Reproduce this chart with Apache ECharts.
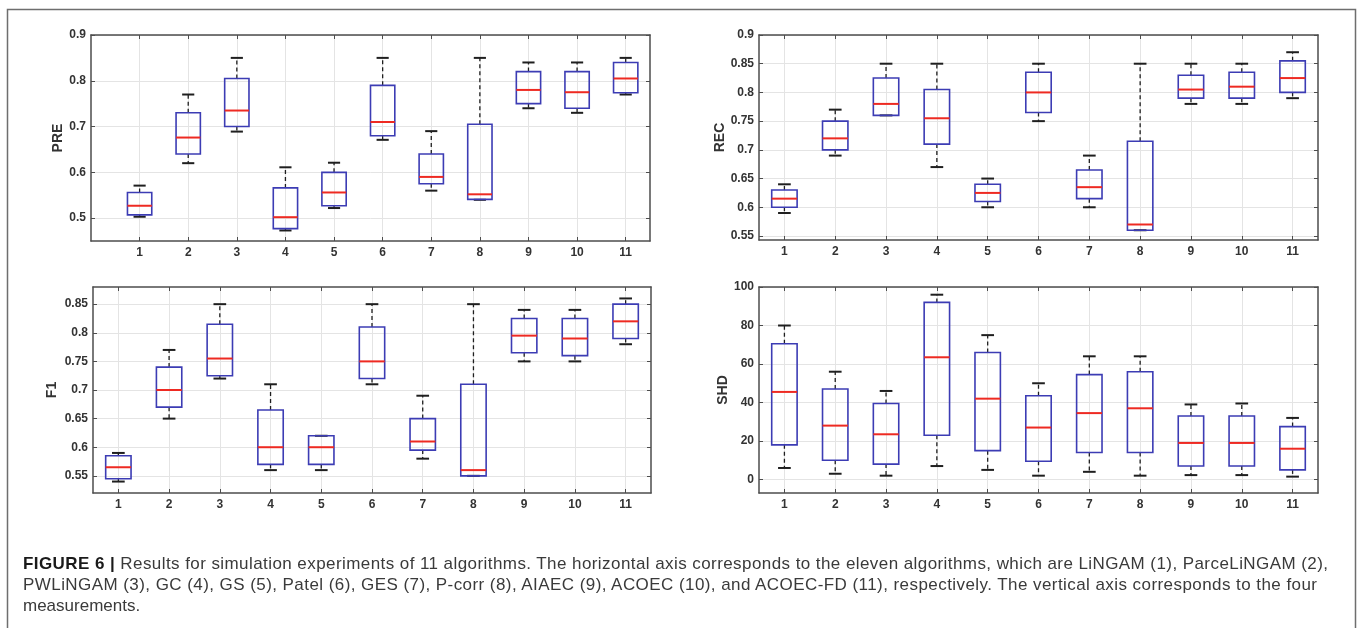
<!DOCTYPE html>
<html>
<head>
<meta charset="utf-8">
<script src="https://cdn.jsdelivr.net/npm/echarts@6/dist/echarts.min.js"></script>
<style>
  html, body { margin: 0; padding: 0; background: #fff; }
  #wrap { position: relative; width: 1360px; height: 628px; overflow: hidden; }
  #chart { width: 1360px; height: 628px; }
  #caption { position: absolute; left: 23px; top: 553px; font-family: "Liberation Sans", Arial, Helvetica, sans-serif;
             font-size: 17px; line-height: 21px; color: #3a3a3a; }
  #caption div { white-space: nowrap; }
  #caption b { color: #1a1a1a; }
</style>
</head>
<body>
<div id="wrap">
  <div id="chart"></div>
  <div id="caption"></div>
</div>
<script>
// algorithm positions on the horizontal axis
var xTicks = [1, 2, 3, 4, 5, 6, 7, 8, 9, 10, 11];

// each row: [min, q1, median, q3, max]
var preData = [
  [0.503, 0.507, 0.527, 0.556, 0.571],
  [0.620, 0.640, 0.676, 0.730, 0.770],
  [0.689, 0.700, 0.735, 0.805, 0.850],
  [0.473, 0.477, 0.502, 0.566, 0.611],
  [0.522, 0.527, 0.556, 0.600, 0.621],
  [0.671, 0.680, 0.710, 0.790, 0.850],
  [0.560, 0.575, 0.590, 0.640, 0.690],
  [0.540, 0.541, 0.552, 0.705, 0.850],
  [0.740, 0.750, 0.780, 0.820, 0.840],
  [0.730, 0.740, 0.775, 0.820, 0.840],
  [0.770, 0.774, 0.805, 0.840, 0.850]
];
var recData = [
  [0.590, 0.600, 0.615, 0.630, 0.640],
  [0.690, 0.700, 0.720, 0.750, 0.770],
  [0.760, 0.760, 0.780, 0.825, 0.850],
  [0.670, 0.710, 0.755, 0.805, 0.850],
  [0.600, 0.610, 0.625, 0.640, 0.650],
  [0.750, 0.765, 0.800, 0.835, 0.850],
  [0.600, 0.615, 0.635, 0.665, 0.690],
  [0.560, 0.560, 0.570, 0.715, 0.850],
  [0.780, 0.790, 0.805, 0.830, 0.850],
  [0.780, 0.790, 0.810, 0.835, 0.850],
  [0.790, 0.800, 0.825, 0.855, 0.870]
];
var f1Data = [
  [0.540, 0.545, 0.565, 0.585, 0.590],
  [0.650, 0.670, 0.700, 0.740, 0.770],
  [0.720, 0.725, 0.755, 0.815, 0.850],
  [0.560, 0.570, 0.600, 0.665, 0.710],
  [0.560, 0.570, 0.600, 0.620, 0.620],
  [0.710, 0.720, 0.750, 0.810, 0.850],
  [0.580, 0.595, 0.610, 0.650, 0.690],
  [0.550, 0.550, 0.560, 0.710, 0.850],
  [0.750, 0.765, 0.795, 0.825, 0.840],
  [0.750, 0.760, 0.790, 0.825, 0.840],
  [0.780, 0.790, 0.820, 0.850, 0.860]
];
var shdData = [
  [6, 18, 45.5, 70.5, 80],
  [3, 10, 28, 47, 56],
  [2, 8, 23.5, 39.5, 46],
  [7, 23, 63.5, 92, 96],
  [5, 15, 42, 66, 75],
  [2, 9.5, 27, 43.5, 50],
  [4, 14, 34.5, 54.5, 64],
  [2, 14, 37, 56, 64],
  [2.3, 7, 19, 33, 39],
  [2.3, 7, 19, 33, 39.5],
  [1.5, 5, 16, 27.5, 32]
];

var preTicks = [0.5, 0.6, 0.7, 0.8, 0.9];
var recTicks = [0.55, 0.6, 0.65, 0.7, 0.75, 0.8, 0.85, 0.9];
var f1Ticks = [0.55, 0.6, 0.65, 0.7, 0.75, 0.8, 0.85];
var shdTicks = [0, 20, 40, 60, 80, 100];

var captionLabel = 'FIGURE 6 |';
var captionLines = [
  'Results for simulation experiments of 11 algorithms. The horizontal axis corresponds to the eleven algorithms, which are LiNGAM (1), ParceLiNGAM (2),',
  'PWLiNGAM (3), GC (4), GS (5), Patel (6), GES (7), P-corr (8), AIAEC (9), ACOEC (10), and ACOEC-FD (11), respectively. The vertical axis corresponds to the four',
  'measurements.'
];
// right ends of the two full caption lines (the text runs to the frame)
var captionEnds = [1328, 1317];

var font = '"Liberation Sans", Arial, Helvetica, sans-serif';
var axisColor = '#4d4d4d';

var panels = [
  { name: 'PRE', data: preData, ticks: preTicks, yMin: 0.45, yMax: 0.9, xMin: 0, left: 91, top: 35, width: 559, height: 206, nameGap: 24 },
  { name: 'REC', data: recData, ticks: recTicks, yMin: 0.543, yMax: 0.9, xMin: 0.5, left: 759, top: 35, width: 559, height: 205, nameGap: 31 },
  { name: 'F1', data: f1Data, ticks: f1Ticks, yMin: 0.52, yMax: 0.88, xMin: 0.5, left: 93, top: 287, width: 558, height: 206, nameGap: 34 },
  { name: 'SHD', data: shdData, ticks: shdTicks, yMin: -7, yMax: 100, xMin: 0.5, left: 759, top: 287, width: 559, height: 206, nameGap: 29 }
];

function renderBox(params, api) {
  var x = api.value(0);
  var lo = api.coord([x, api.value(1)]);
  var q1 = api.coord([x, api.value(2)]);
  var md = api.coord([x, api.value(3)]);
  var q3 = api.coord([x, api.value(4)]);
  var hi = api.coord([x, api.value(5)]);
  var band = api.size([1, 0])[0];
  var bw = band * 0.5;
  var cw = band * 0.25;
  var cx = md[0];
  var dash = { stroke: '#1f1f1f', lineWidth: 1.3, lineDash: [4, 3] };
  var cap = { stroke: '#1f1f1f', lineWidth: 2 };
  return {
    type: 'group',
    children: [
      { type: 'line', shape: { x1: cx, y1: q3[1], x2: cx, y2: hi[1] }, style: dash },
      { type: 'line', shape: { x1: cx, y1: q1[1], x2: cx, y2: lo[1] }, style: dash },
      { type: 'line', shape: { x1: cx - cw / 2, y1: hi[1], x2: cx + cw / 2, y2: hi[1] }, style: cap },
      { type: 'line', shape: { x1: cx - cw / 2, y1: lo[1], x2: cx + cw / 2, y2: lo[1] }, style: cap },
      { type: 'rect', shape: { x: cx - bw / 2, y: q3[1], width: bw, height: q1[1] - q3[1] },
        style: { fill: 'none', stroke: '#3c3cb4', lineWidth: 1.6 } },
      { type: 'line', shape: { x1: cx - bw / 2, y1: md[1], x2: cx + bw / 2, y2: md[1] },
        style: { stroke: '#ee2a22', lineWidth: 2 } }
    ]
  };
}

var grids = [], xAxes = [], yAxes = [], series = [];
panels.forEach(function (p, i) {
  grids.push({ left: p.left, top: p.top, width: p.width, height: p.height });
  var lineStyle = { color: axisColor, width: 1.5 };
  var tickStyle = { color: axisColor, width: 1 };
  xAxes.push({
    type: 'value', gridIndex: i, min: p.xMin, max: 11.5, position: 'bottom',
    axisLine: { onZero: false, lineStyle: lineStyle },
    axisTick: { inside: true, length: 4, customValues: xTicks, lineStyle: tickStyle },
    axisLabel: { customValues: xTicks, margin: 6, color: '#333', fontWeight: 'bold', fontSize: 12, fontFamily: font },
    splitLine: { show: true, lineStyle: { color: '#e4e4e4', width: 1 } }
  });
  xAxes.push({
    type: 'value', gridIndex: i, min: p.xMin, max: 11.5, position: 'top',
    axisLine: { onZero: false, lineStyle: lineStyle },
    axisTick: { inside: true, length: 4, customValues: xTicks, lineStyle: tickStyle },
    axisLabel: { show: false },
    splitLine: { show: false }
  });
  yAxes.push({
    type: 'value', gridIndex: i, min: p.yMin, max: p.yMax, position: 'left',
    name: p.name, nameLocation: 'middle', nameGap: p.nameGap,
    nameTextStyle: { color: '#333', fontWeight: 'bold', fontSize: 14, fontFamily: font },
    axisLine: { show: true, onZero: false, lineStyle: lineStyle },
    axisTick: { show: true, inside: true, length: 4, customValues: p.ticks, lineStyle: tickStyle },
    axisLabel: { customValues: p.ticks, margin: 5, color: '#333', fontWeight: 'bold', fontSize: 12, fontFamily: font },
    splitLine: { show: true, lineStyle: { color: '#e4e4e4', width: 1 } }
  });
  yAxes.push({
    type: 'value', gridIndex: i, min: p.yMin, max: p.yMax, position: 'right',
    axisLine: { show: true, onZero: false, lineStyle: lineStyle },
    axisTick: { show: true, inside: true, length: 4, customValues: p.ticks, lineStyle: tickStyle },
    axisLabel: { show: false },
    splitLine: { show: false }
  });
  series.push({
    type: 'custom', name: p.name, xAxisIndex: 2 * i, yAxisIndex: 2 * i,
    renderItem: renderBox,
    encode: { x: 0, y: [1, 2, 3, 4, 5] },
    data: p.data.map(function (r, k) { return [xTicks[k]].concat(r); }),
    z: 5
  });
});

var chart = echarts.init(document.getElementById('chart'));
chart.setOption({
  animation: false,
  backgroundColor: '#fff',
  grid: grids,
  xAxis: xAxes,
  yAxis: yAxes,
  series: series,
  graphic: [
    { type: 'rect', silent: true, shape: { x: 7.5, y: 9.5, width: 1348, height: 680 },
      style: { fill: 'none', stroke: '#6e6e6e', lineWidth: 1.5 } }
  ]
});

// caption: real text, the two long lines stretched a little to reach the frame
var cap = document.getElementById('caption');
captionLines.forEach(function (t, k) {
  var row = document.createElement('div');
  if (k === 0) {
    var b = document.createElement('b');
    b.textContent = captionLabel;
    row.appendChild(b);
    row.appendChild(document.createTextNode(' ' + t));
  } else {
    row.textContent = t;
  }
  cap.appendChild(row);
  if (k < captionEnds.length) {
    var span = document.createElement('span');
    span.style.whiteSpace = 'nowrap';
    while (row.firstChild) span.appendChild(row.firstChild);
    row.appendChild(span);
    var w = span.getBoundingClientRect().width;
    var target = captionEnds[k] - 23;
    var n = span.textContent.length - 1;
    span.style.letterSpacing = ((target - w) / n) + 'px';
  }
});
</script>
</body>
</html>
